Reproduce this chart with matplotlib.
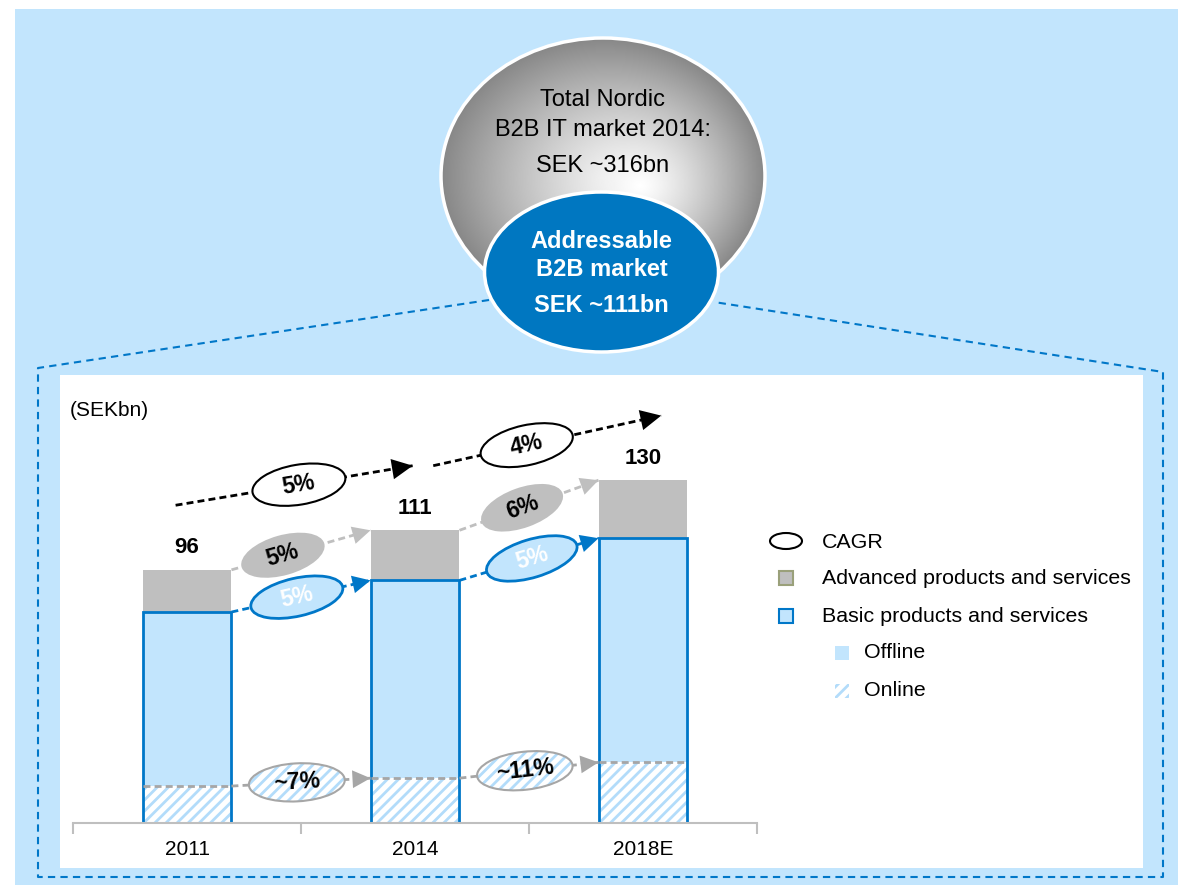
import numpy as np
import matplotlib.pyplot as plt
from matplotlib.patches import Ellipse, Rectangle

W, H = 1178, 885

years = ["2011", "2014", "2018E"]
basic = np.array([80, 92, 108])     # basic products and services (offline + online)
online = np.array([14, 17, 23])
advanced = np.array([16, 19, 22])
totals = [96, 111, 130]
cagr_total = ["5%", "4%"]
cagr_advanced = ["5%", "6%"]
cagr_basic = ["5%", "5%"]
cagr_online = ["~7%", "~11%"]

LIGHT = "#C2E5FD"
HATCH = "#B3DCFA"
BLUE = "#0077C8"
GRAY = "#BFBFBF"
DGRAY = "#A6A6A6"

plt.rcParams["font.family"] = ["Liberation Sans", "DejaVu Sans"]
plt.rcParams["hatch.linewidth"] = 2.0

fig = plt.figure(figsize=(W / 100, H / 100), dpi=100)


def Y(y):
    return H - y


def pix_axes(z):
    a = fig.add_axes([0, 0, 1, 1], zorder=z)
    a.set_xlim(0, W)
    a.set_ylim(0, H)
    a.axis("off")
    a.patch.set_visible(False)
    return a


bg = pix_axes(0)

# background and white panel
bg.add_patch(Rectangle((15, 0), W - 15, Y(9), fc=LIGHT, ec="none", zorder=0))
bg.add_patch(Rectangle((60, Y(868)), 1143 - 60, 868 - 375, fc="white", ec="none", zorder=1))
bg.plot([489, 38, 38, 1163, 1163, 714],
        [Y(300), Y(368), Y(877), Y(877), Y(372), Y(302)],
        color=BLUE, lw=1.5, ls=(0, (3.5, 2.5)), zorder=1.5)

# gray "total market" circle with radial gradient (off-centre highlight)
cx, cy, ra, rb = 603, Y(176), 162, 138
fx, fy = 0.23, -0.07          # highlight position, in units of the radii
xs = np.linspace(-1, 1, 400)
XX, YY = np.meshgrid(xs, xs)
rc = np.sqrt(XX ** 2 + YY ** 2)
rf = np.sqrt((XX - fx) ** 2 + (YY - fy) ** 2)
f = rf / (rf + np.clip(1 - rc, 1e-3, None))
val = 1 - 0.47 * np.clip(f, 0, 1) ** 1.25
img = bg.imshow(val, cmap="gray", vmin=0, vmax=1, origin="lower", aspect="auto",
                extent=(cx - ra, cx + ra, cy - rb, cy + rb), interpolation="bilinear", zorder=2)
circ = Ellipse((cx, cy), 2 * ra, 2 * rb, fc="none", ec="white", lw=2.5, zorder=3)
bg.add_patch(circ)
img.set_clip_path(circ)
bg.set_xlim(0, W)
bg.set_ylim(0, H)

for txt, yy in [("Total Nordic", 100), ("B2B IT market 2014:", 130), ("SEK ~316bn", 166)]:
    bg.text(603, Y(yy), txt, ha="center", va="center", fontsize=17, zorder=4)

bg.add_patch(Ellipse((601.5, Y(272)), 234, 160, fc="#0077C1", ec="white", lw=2.5, zorder=5))
for txt, yy in [("Addressable", 241), ("B2B market", 269), ("SEK ~111bn", 305)]:
    bg.text(601.5, Y(yy), txt, ha="center", va="center", fontsize=17,
            fontweight="bold", color="white", zorder=6)

bg.text(70, Y(410), "(SEKbn)", ha="left", va="center", fontsize=15, zorder=4)

# legend
bg.add_patch(Ellipse((786, Y(541)), 32, 16, fc="white", ec="black", lw=1.5, zorder=4))
bg.add_patch(Rectangle((779, Y(585)), 14, 14, fc=GRAY, ec="#9AA07A", lw=1.5, zorder=4))
bg.add_patch(Rectangle((779, Y(623)), 14, 14, fc=LIGHT, ec=BLUE, lw=1.5, zorder=4))
bg.add_patch(Rectangle((835, Y(660)), 14, 14, fc=LIGHT, ec="none", zorder=4))
bg.add_patch(Rectangle((835, Y(698)), 14, 14, fc="white", ec=HATCH, lw=0, hatch="///", zorder=4))
for txt, xx, yy in [("CAGR", 822, 542), ("Advanced products and services", 822, 578),
                    ("Basic products and services", 822, 616), ("Offline", 864, 653),
                    ("Online", 864, 691)]:
    bg.text(xx, Y(yy), txt, ha="left", va="center", fontsize=15.4, zorder=4)

# bar chart
ax = fig.add_axes([73 / W, (H - 823) / H, (757 - 73) / W, (823 - 380) / H], zorder=1)
ax.patch.set_visible(False)
x = np.arange(len(years))
bw = 0.39
offline = basic - online
ax.bar(x, online, bw, color="white", edgecolor=HATCH, hatch="///", lw=0)
ax.bar(x, offline, bw, bottom=online, color=LIGHT, lw=0)
ax.bar(x, advanced, bw, bottom=basic, color=GRAY, lw=0)
ax.bar(x, basic, bw, fill=False, edgecolor=BLUE, lw=2)
for i in x:
    ax.plot([i - bw / 2, i + bw / 2], [online[i], online[i]], color=DGRAY, lw=2,
            ls=(0, (2.5, 1.5)), zorder=3)
    ax.text(i, totals[i] + 8.3, str(totals[i]), ha="center", va="center",
            fontsize=16, fontweight="bold")

ax.set_xlim(-0.5, 2.5)
ax.set_ylim(0, 168)
ax.set_yticks([])
ax.set_xticks(x)
ax.set_xticklabels(years)
ax.set_xticks([-0.5, 0.5, 1.5, 2.5], minor=True)
ax.tick_params(axis="x", which="major", length=0, pad=12, labelsize=15)
ax.tick_params(axis="x", which="minor", length=8, width=1.5, color=GRAY)
for s in ["left", "top", "right"]:
    ax.spines[s].set_visible(False)
ax.spines["bottom"].set_color(GRAY)
ax.spines["bottom"].set_linewidth(1.5)

# growth arrows and CAGR bubbles
top = pix_axes(2)


def px(xv, yv):
    return ax.transData.transform((xv, yv))


def arrow(p0, p1, color, lw, dash, scale=20):
    top.plot([p0[0], p1[0]], [p0[1], p1[1]], color=color, lw=lw, ls=dash, zorder=3)
    top.annotate("", xy=p1, xytext=p0,
                 arrowprops=dict(arrowstyle="-|>,head_length=0.65,head_width=0.32",
                                 mutation_scale=scale, color=color, lw=0,
                                 shrinkA=0, shrinkB=0), zorder=3)


def bubble(p0, p1, t, label, w, h, fc, ec, lw, tc, hatch=None):
    c = p0 + t * (p1 - p0)
    ang = np.degrees(np.arctan2(p1[1] - p0[1], p1[0] - p0[0]))
    if hatch:
        top.add_patch(Ellipse(c, w, h, angle=ang, fc="white", ec=HATCH, lw=0,
                              hatch=hatch, zorder=4))
        top.add_patch(Ellipse(c, w, h, angle=ang, fill=False, ec=ec, lw=lw, zorder=4))
    else:
        top.add_patch(Ellipse(c, w, h, angle=ang, fc=fc, ec=ec, lw=lw, zorder=4))
    top.text(c[0], c[1], label, ha="center", va="center", rotation=ang,
             rotation_mode="anchor", fontsize=16.5, fontweight="bold", color=tc, zorder=5)


cagr_x0 = [-0.05, 1.08]
cagr_x1 = [0.99, 2.08]
t_total = [0.52, 0.41]
t_adv = [0.37, 0.45]
t_basic = [0.47, 0.52]
t_online = [0.47, 0.47]

for i in range(2):
    p0 = px(cagr_x0[i], totals[i] + 24.5)
    p1 = px(cagr_x1[i], totals[i + 1] + 24.5)
    arrow(p0, p1, "black", 2, (0, (2.5, 1.5)), scale=23)
    bubble(p0, p1, t_total[i], cagr_total[i], 94, 40, "white", "black", 1.5, "black")

    p0 = px(i + bw / 2, totals[i])
    p1 = px(i + 1 - bw / 2, totals[i + 1])
    arrow(p0, p1, GRAY, 2, (0, (2.5, 1.5)))
    bubble(p0, p1, t_adv[i], cagr_advanced[i], 86, 40, GRAY, "none", 0, "black")

    p0 = px(i + bw / 2, basic[i])
    p1 = px(i + 1 - bw / 2, basic[i + 1])
    arrow(p0, p1, BLUE, 2, (0, (2.5, 1.5)))
    bubble(p0, p1, t_basic[i], cagr_basic[i], 94, 38, LIGHT, BLUE, 2, "white")

    p0 = px(i + bw / 2, online[i])
    p1 = px(i + 1 - bw / 2, online[i + 1])
    arrow(p0, p1, DGRAY, 2, (0, (2.5, 1.5)))
    bubble(p0, p1, t_online[i], cagr_online[i], 96, 38, None, DGRAY, 1.5, "black", hatch="///")

fig.savefig("out.png", dpi=100)
